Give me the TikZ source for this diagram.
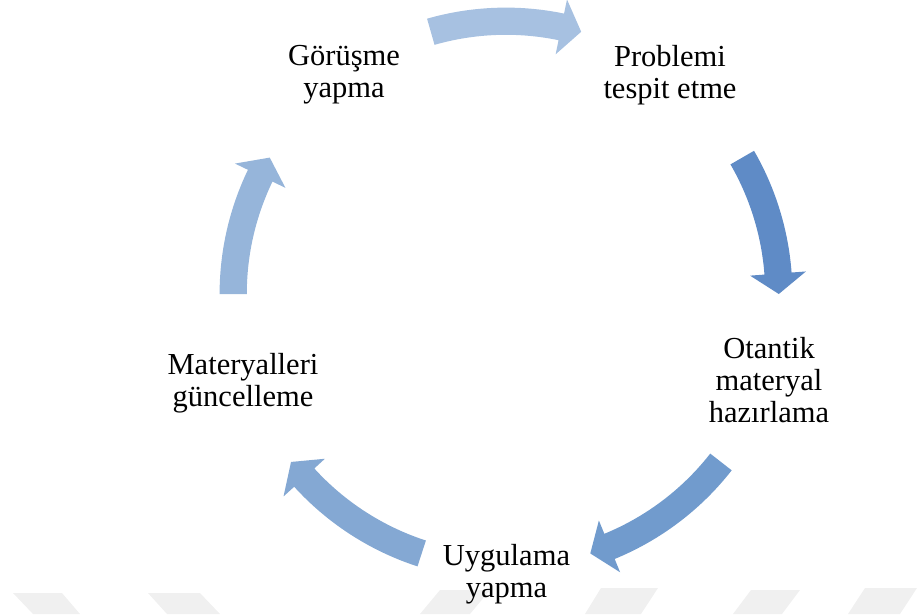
\documentclass[tikz,border=0pt]{standalone}
\usepackage{fontspec}
\setmainfont{Liberation Serif}
\definecolor{arrowone}{RGB}{167,193,225}
\definecolor{arrowtwo}{RGB}{95,139,198}
\definecolor{arrowthree}{RGB}{113,155,205}
\definecolor{arrowfour}{RGB}{132,168,211}
\definecolor{arrowfive}{RGB}{150,181,218}
\definecolor{watermark}{RGB}{240,240,240}
\begin{document}
\begin{tikzpicture}[font = \fontsize{21.7}{22.5}\selectfont]
    \useasboundingbox (-12.65, -8) rectangle (10.275, 7.35);
    \fill[watermark] (-12.325, -7.475) -- (-11.1, -7.475) -- (-10.65, -8) -- (-11.825, -8) -- cycle;
    \fill[watermark] (-8.95, -7.475) -- (-7.65, -7.475) -- (-7.15, -8) -- (-8.475, -8) -- cycle;
    \fill[watermark] (-1.65, -7.4) -- (-0.4, -7.4) -- (-0.9, -8) -- (-2.15, -8) -- cycle;
    \fill[watermark] (2.375, -7.35) -- (3.8, -7.35) -- (3.375, -8) -- (1.975, -8) -- cycle;
    \fill[watermark] (6.125, -7.4) -- (7.35, -7.4) -- (6.9, -8) -- (5.675, -8) -- cycle;
    \fill[watermark] (8.975, -7.35) -- (10.275, -7.35) -- (9.85, -8) -- (8.55, -8) -- cycle;
    \node[align = center, inner sep = 0pt] (gorusme yapma) at (-4.05, 5.475) {Görüşme \\ yapma};
    \node[align = center, inner sep = 0pt] (problemi tespit) at (4.1, 5.475) {Problemi \\ tespit etme};
    \node[align = center, inner sep = 0pt] (otantik materyal) at (6.575, -2.15) {Otantik \\ materyal \\ hazırlama};
    \node[align = center, inner sep = 0pt] (uygulama yapma) at (0.0125, -7.0125) {Uygulama \\ yapma};
    \node[align = center, inner sep = 0pt] (materyalleri guncelleme) at (-6.575, -2.225) {Materyalleri \\ güncelleme};
    \fill[arrowone] (106:7.16) arc[start angle = 106, end angle = 78.3, radius = 7.16] -- (78.3:7.52) -- (74:6.82) -- (78.3:6.12) -- (78.3:6.48) arc[start angle = 78.3, end angle = 106, radius = 6.48] -- cycle;
    \fill[arrowtwo] (30:7.16) arc[start angle = 30, end angle = 4.3, radius = 7.16] -- (4.3:7.52) -- (0:6.82) -- (4.3:6.12) -- (4.3:6.48) arc[start angle = 4.3, end angle = 30, radius = 6.48] -- cycle;
    \fill[arrowthree] (-38:7.16) arc[start angle = -38, end angle = -67.7, radius = 7.16] -- (-67.7:7.52) -- (-72:6.82) -- (-67.7:6.12) -- (-67.7:6.48) arc[start angle = -67.7, end angle = -38, radius = 6.48] -- cycle;
    \fill[arrowfour] (252:7.16) arc[start angle = 252, end angle = 222.3, radius = 7.16] -- (222.3:7.52) -- (218:6.82) -- (222.3:6.12) -- (222.3:6.48) arc[start angle = 222.3, end angle = 252, radius = 6.48] -- cycle;
    \fill[arrowfive] (180:7.16) arc[start angle = 180, end angle = 154.3, radius = 7.16] -- (154.3:7.52) -- (150:6.82) -- (154.3:6.12) -- (154.3:6.48) arc[start angle = 154.3, end angle = 180, radius = 6.48] -- cycle;
  \end{tikzpicture}
\end{document}
